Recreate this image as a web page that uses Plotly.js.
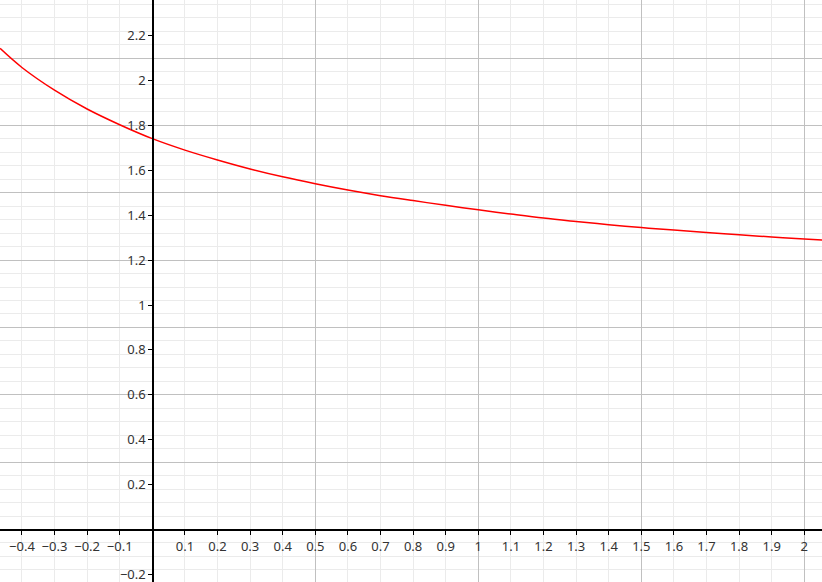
<!DOCTYPE html>
<html>
<head>
<meta charset="utf-8">
<script src="https://cdn.plot.ly/plotly-3.0.1.min.js"></script>
<style>
  html, body { margin: 0; padding: 0; background: #ffffff; }
  #chart { width: 822px; height: 582px; }
</style>
</head>
<body>
<div id="chart"></div>
<script>
// Curve values
const curveX = [-0.467, -0.4, -0.3, -0.2, -0.1, 0.0, 0.1, 0.2, 0.3, 0.4, 0.5, 0.6, 0.7, 0.8, 0.9, 1.0,
                1.1, 1.2, 1.3, 1.4, 1.5, 1.6, 1.7, 1.8, 1.9, 2.0, 2.055];
const curveY = [2.143, 2.058, 1.957, 1.873, 1.803, 1.741, 1.690, 1.646, 1.606, 1.571, 1.540, 1.512, 1.487, 1.465, 1.444, 1.424,
                1.405, 1.387, 1.372, 1.358, 1.345, 1.334, 1.323, 1.313, 1.303, 1.294, 1.289];

// Tick labels (0 is not labelled)
const xTickVals = [-0.4, -0.3, -0.2, -0.1, 0.1, 0.2, 0.3, 0.4, 0.5, 0.6, 0.7, 0.8, 0.9, 1, 1.1, 1.2, 1.3, 1.4, 1.5, 1.6, 1.7, 1.8, 1.9, 2];
const xTickText = ["\u22120.4", "\u22120.3", "\u22120.2", "\u22120.1", "0.1", "0.2", "0.3", "0.4", "0.5", "0.6", "0.7", "0.8", "0.9", "1", "1.1", "1.2", "1.3", "1.4", "1.5", "1.6", "1.7", "1.8", "1.9", "2"];
const yTickVals = [-0.2, 0.2, 0.4, 0.6, 0.8, 1, 1.2, 1.4, 1.6, 1.8, 2, 2.2];
const yTickText = ["\u22120.2", "0.2", "0.4", "0.6", "0.8", "1", "1.2", "1.4", "1.6", "1.8", "2", "2.2"];

const xRange = [-0.4672, 2.0543];
const yRange = [-0.2339, 2.3586];

const xAxisPos = (0 - yRange[0]) / (yRange[1] - yRange[0]);
const yAxisPos = (0 - xRange[0]) / (xRange[1] - xRange[0]);

const tickFont = { family: "'Noto Sans', 'Open Sans', sans-serif", size: 13, color: '#333333' };

const traces = [
  {
    x: curveX, y: curveY, type: 'scatter', mode: 'lines',
    line: { color: '#ff0000', width: 1.5, shape: 'spline', smoothing: 1 },
    xaxis: 'x', yaxis: 'y', hoverinfo: 'skip', showlegend: false
  },
  {
    x: curveX, y: curveY, type: 'scatter', mode: 'lines',
    line: { color: 'rgba(0,0,0,0)', width: 0 },
    xaxis: 'x2', yaxis: 'y2', hoverinfo: 'skip', showlegend: false
  }
];

const layout = {
  width: 822, height: 582,
  margin: { l: 0, r: 0, t: 0, b: 0, pad: 0 },
  paper_bgcolor: '#ffffff', plot_bgcolor: '#ffffff',
  showlegend: false,
  xaxis: {
    range: xRange, autorange: false, fixedrange: true,
    tick0: 0, dtick: 0.5, showgrid: true, gridcolor: '#c0c0c0', gridwidth: 1,
    minor: { tick0: 0, dtick: 0.1, showgrid: true, gridcolor: '#ebebeb', gridwidth: 1, ticks: '' },
    showticklabels: false, ticks: '', showline: false, zeroline: false
  },
  yaxis: {
    range: yRange, autorange: false, fixedrange: true,
    tick0: 0, dtick: 0.3, showgrid: true, gridcolor: '#c0c0c0', gridwidth: 1,
    minor: { tick0: 0, dtick: 0.06, showgrid: true, gridcolor: '#ebebeb', gridwidth: 1, ticks: '' },
    showticklabels: false, ticks: '', showline: false, zeroline: false
  },
  xaxis2: {
    overlaying: 'x', anchor: 'free', position: xAxisPos, side: 'bottom',
    range: xRange, autorange: false, fixedrange: true,
    tickmode: 'array', tickvals: xTickVals, ticktext: xTickText,
    ticks: 'outside', ticklen: 4, tickwidth: 1, tickcolor: '#000000',
    tickfont: tickFont, ticklabeloverflow: 'allow', showgrid: false, zeroline: false,
    showline: true, linecolor: '#000000', linewidth: 1.5
  },
  yaxis2: {
    overlaying: 'y', anchor: 'free', position: yAxisPos, side: 'left',
    range: yRange, autorange: false, fixedrange: true,
    tickmode: 'array', tickvals: yTickVals, ticktext: yTickText,
    ticks: 'outside', ticklen: 4, tickwidth: 1, tickcolor: '#000000',
    tickfont: tickFont, ticklabeloverflow: 'allow', showgrid: false, zeroline: false,
    showline: true, linecolor: '#000000', linewidth: 1.5
  }
};

Plotly.newPlot('chart', traces, layout, { staticPlot: true, displayModeBar: false });
</script>
</body>
</html>
